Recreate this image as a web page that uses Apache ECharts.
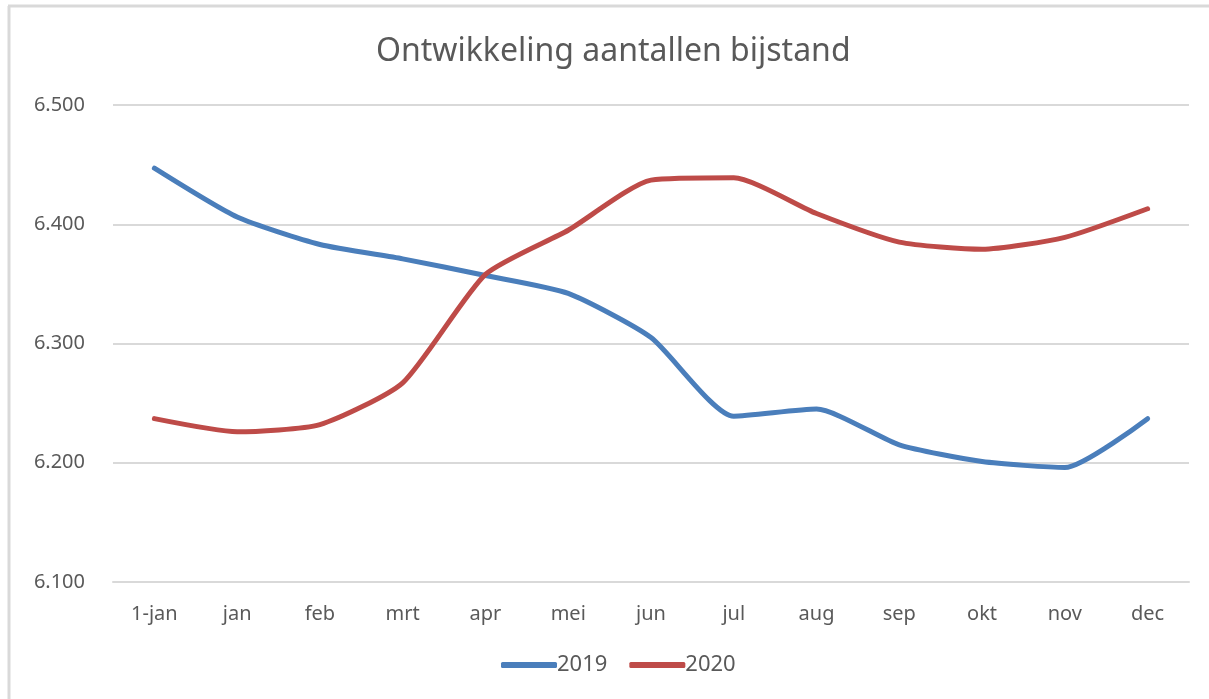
<!DOCTYPE html>
<html>
  <head>
    <meta charset="UTF-8">
    <title>Ontwikkeling aantallen bijstand</title>
    <script src="https://cdn.jsdelivr.net/npm/echarts@6/dist/echarts.min.js"></script>
    <style>
      html, body { margin: 0; padding: 0; background: #fff; }
      #main { width: 1209px; height: 699px; }
    </style>
  </head>
  <body>
    <div id="main"></div>
    <script type="text/javascript">
      // maanden op de x-as
      var months = ['1-jan', 'jan', 'feb', 'mrt', 'apr', 'mei', 'jun', 'jul', 'aug', 'sep', 'okt', 'nov', 'dec'];
      // aantallen bijstand per jaar
      var data2019 = [6447, 6406, 6383, 6371, 6357, 6342, 6305, 6239, 6245, 6215, 6201, 6196, 6237];
      var data2020 = [6237, 6226, 6232, 6267, 6358, 6395, 6437, 6439, 6409, 6385, 6379, 6389, 6413];

      var textColor = '#595959';
      var font = 'Noto Sans';

      var chart = echarts.init(document.getElementById('main'));
      chart.setOption({
        animation: false,
        backgroundColor: '#fff',
        title: {
          text: 'Ontwikkeling aantallen bijstand',
          left: 371,
          top: 31,
          textStyle: { color: textColor, fontFamily: font, fontSize: 32, fontWeight: 'normal' }
        },
        graphic: [
          // kader om de grafiek
          { type: 'line', shape: { x1: 9, y1: 6, x2: 9, y2: 699 }, style: { stroke: '#d9d9d9', lineWidth: 3 } },
          { type: 'line', shape: { x1: 8, y1: 6, x2: 1209, y2: 6 }, style: { stroke: '#d9d9d9', lineWidth: 3 } }
        ],
        legend: {
          data: ['2019', '2020'],
          bottom: 18,
          left: 496,
          icon: 'roundRect',
          itemWidth: 56,
          itemHeight: 6,
          itemGap: 22,
          textStyle: { color: textColor, fontFamily: font, fontSize: 22, padding: [0, 0, 0, -5] }
        },
        grid: {
          left: 113,
          right: 20,
          top: 105,
          bottom: 117
        },
        xAxis: {
          type: 'category',
          data: months,
          boundaryGap: true,
          axisLine: { lineStyle: { color: '#d9d9d9', width: 2 } },
          axisTick: { show: false },
          axisLabel: { color: textColor, fontFamily: font, fontSize: 20, margin: 22 }
        },
        yAxis: {
          type: 'value',
          min: 6100,
          max: 6500,
          interval: 100,
          axisLine: { show: false },
          axisTick: { show: false },
          splitLine: { lineStyle: { color: '#d9d9d9', width: 2 } },
          axisLabel: {
            color: textColor, fontFamily: font, fontSize: 20, margin: 28,
            formatter: function (v) {
              var s = String(v);
              return s.slice(0, s.length - 3) + '.' + s.slice(-3);
            }
          }
        },
        series: [
          {
            name: '2019',
            type: 'line',
            data: data2019,
            smooth: 0.2,
            showSymbol: false,
            lineStyle: { color: '#4a7ebb', width: 5, cap: 'round' },
            itemStyle: { color: '#4a7ebb' }
          },
          {
            name: '2020',
            type: 'line',
            data: data2020,
            smooth: 0.2,
            showSymbol: false,
            lineStyle: { color: '#be4b48', width: 5, cap: 'round' },
            itemStyle: { color: '#be4b48' }
          }
        ]
      });
    </script>
  </body>
</html>
